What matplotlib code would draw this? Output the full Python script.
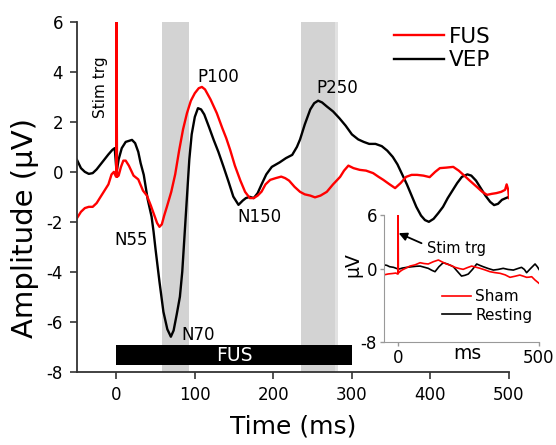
import matplotlib
matplotlib.use("Agg")
import matplotlib.pyplot as plt

plt.rcParams['font.family'] = ['DejaVu Sans']
plt.rcParams['axes.unicode_minus'] = False

# ---------------- data (main panel) ----------------
vep_t = [-50, -45, -40, -35, -30, -25, -20, -15, -10, -5, -2, 0, 1, 3, 7, 12, 20, 24, 28, 31, 35,
         40, 45, 47.5, 50, 55, 60, 65, 69.5, 73, 77, 81, 84, 87, 90, 93, 96, 100, 104, 108,
         112, 118, 124, 130, 136.5, 143, 149, 155.6, 161, 165, 170, 175, 180, 185, 191, 198,
         208, 216, 224, 230, 234, 240, 247, 252, 257, 262, 268, 276, 284, 292, 300, 308, 315,
         322, 330, 338, 345, 352, 358, 364, 370, 376, 382, 388, 393, 398, 404, 410, 416, 422,
         428, 434, 440, 447, 452, 458, 464, 470, 476, 481, 486, 491, 496, 500]
vep_v = [0.48, 0.15, 0.0, -0.08, -0.05, 0.1, 0.3, 0.5, 0.7, 0.88, 0.95, 0.15, 0.1, 0.5, 0.95, 1.2, 1.28, 1.15, 0.8, 0.35, -0.12,
         -1.1, -1.8, -2.4, -3.1, -4.4, -5.6, -6.3, -6.6, -6.35, -5.7, -5.0, -4.0, -2.5, -1.0, 0.5, 1.5, 2.2, 2.55, 2.5,
         2.3, 1.8, 1.28, 0.8, 0.21, -0.4, -0.99, -1.32, -1.15, -1.05, -1.0, -1.05, -0.85, -0.5, -0.1, 0.2,
         0.38, 0.55, 0.68, 1.0, 1.3, 1.9, 2.5, 2.75, 2.85, 2.78, 2.62, 2.42, 2.15, 1.85, 1.5, 1.3, 1.2,
         1.12, 1.12, 1.03, 0.85, 0.6, 0.3, -0.1, -0.5, -0.95, -1.4, -1.75, -1.93, -2.0, -1.88, -1.65, -1.4, -1.05,
         -0.75, -0.45, -0.2, -0.1, -0.15, -0.35, -0.65, -0.95, -1.2, -1.33, -1.28, -1.12, -1.05, -1.0]

fus_t = [-50, -45, -40, -35, -30, -25, -20, -15, -10, -6, -3, -1, 0, 0, 1, 3, 6, 9, 12, 16, 22, 28,
         34, 39, 44, 48, 52, 55, 58, 61, 64.5, 70, 75, 80, 85, 90, 95, 100, 105, 109, 113, 120,
         128, 135, 140, 145, 151, 158, 164, 170, 175, 180, 185, 190, 196, 203, 210, 215, 220,
         227, 234, 240, 247, 253, 260, 268, 276, 285, 290, 295.5, 302, 310, 318, 327, 334, 340,
         348, 355, 362, 369, 376, 383, 391, 399, 406, 412, 420, 429, 436, 442, 450, 459, 466,
         472, 478, 484, 490, 495, 497, 499, 500]
fus_v = [-1.85, -1.6, -1.45, -1.4, -1.4, -1.25, -1.0, -0.75, -0.5, -0.1, 0.0, -0.15, -0.2, 7.0, -0.2, -0.15, 0.2, 0.45, 0.45, 0.25, -0.15, -0.3,
         -0.75, -0.95, -1.35, -1.7, -2.05, -2.2, -2.1, -1.75, -1.39, -0.8, -0.1, 0.85, 1.7, 2.35, 2.85, 3.15, 3.35, 3.4, 3.3, 2.9,
         2.35, 1.75, 1.35, 0.88, 0.25, -0.35, -0.8, -1.05, -1.05, -0.95, -0.79, -0.5, -0.32, -0.25, -0.19, -0.25, -0.35,
         -0.6, -0.8, -0.9, -0.95, -1.02, -0.95, -0.8, -0.5, -0.2, 0.05, 0.25, 0.15, 0.08, 0.05, -0.05, -0.2, -0.32,
         -0.5, -0.65, -0.45, -0.2, -0.12, -0.12, -0.15, -0.21, 0.0, 0.15, 0.17, 0.2, 0.05, -0.12, -0.35, -0.6, -0.8,
         -0.92, -0.88, -0.85, -0.8, -0.72, -0.5, -0.72, -1.05]

shade_windows = [(58, 92), (235, 278)]
shade_light = (278, 282)
fus_window = (0, 300)

peak_labels = ["N55", "N70", "P100", "N150", "P250"]
peak_pos = [(19.5, -2.73), (104.7, -6.52), (129.4, 3.78), (181.7, -1.8), (281, 3.37)]

main_xticks = [0, 100, 200, 300, 400, 500]
main_yticks = [-8, -6, -4, -2, 0, 2, 4, 6]

# ---------------- data (inset) ----------------
sham_t = [-50, -35, -20, -8, -2, 0, 0, 1, 8, 15, 25, 42, 60, 78, 92, 107, 125, 143, 158, 172, 187,
          202, 217, 231, 246, 261, 276, 291, 308, 326, 343, 362, 380, 397, 415, 432, 445, 456,
          465, 474, 486, 495, 500]
sham_v = [-0.6, -0.5, -0.45, -0.4, -0.5, -0.5, 6.5, -0.4, -0.2, -0.05, 0.1, 0.37, 0.5, 0.74, 0.65, 0.6, 0.85, 1.04, 0.8, 0.6, 0.45,
          0.23, 0.1, 0.01, 0.2, 0.37, 0.25, 0.12, -0.05, -0.25, -0.35, -0.43, -0.6, -0.87, -0.75, -0.62, -0.75, -0.87,
          -0.85, -0.8, -1.17, -1.4, -1.53]
rest_t = [-50, -40, -30, -16, -5, 5, 15, 31, 50, 65, 78, 92, 107, 120, 131, 145, 160, 175, 196, 210,
          225, 237, 249, 264, 279, 290, 302, 320, 338, 355, 373, 390, 409, 425, 438, 448, 456,
          470, 486, 494, 500]
rest_v = [0.5, 0.45, 0.3, 0.23, 0.1, 0.05, 0.15, 0.23, 0.3, 0.35, 0.37, 0.25, 0.12, -0.1, -0.25, 0.3, 0.74, 0.6, 0.3, -0.2,
          -0.73, -0.65, -0.51, 0.0, 0.6, 0.45, 0.3, 0.1, -0.07, 0.0, 0.12, 0.0, -0.07, 0.1, 0.23, 0.0, -0.36,
          0.1, 0.6, 0.3, 0.0]
inset_xticks = [0, 500]
inset_yticks = [-8, 0, 6]

RED = '#ff0000'
W, H = 556, 445

fig = plt.figure(figsize=(W / 100, H / 100), dpi=100)

# main axes: pixel box left=77, right=509, top=22, bottom=371.7
ax = fig.add_axes([77 / W, 1 - 371.7 / H, (509 - 77) / W, (371.7 - 22) / H])
ax.set_xlim(-50, 500)
ax.set_ylim(-8, 6)

for a, b in shade_windows:
    ax.axvspan(a, b, color='#d3d3d3', lw=0, zorder=0)
ax.axvspan(shade_light[0], shade_light[1], color='#e2e2e2', lw=0, zorder=0)

ax.barh(-7.35, fus_window[1] - fus_window[0], left=fus_window[0], height=0.8,
        color='black', zorder=3)
ax.text((fus_window[0] + fus_window[1]) / 2, -7.35, 'FUS', color='white',
        ha='center', va='center', fontsize=13.5, zorder=4)

ax.plot(vep_t, vep_v, color='black', lw=1.7, label='VEP', zorder=2)
ax.plot(fus_t, fus_v, color=RED, lw=1.7, label='FUS', zorder=2)

ax.text(-20.4, 3.41, 'Stim trg', rotation=90, ha='center', va='center', fontsize=11)
for lab, (x, y) in zip(peak_labels, peak_pos):
    ax.text(x, y, lab, ha='center', va='center', fontsize=12)

ax.set_xticks(main_xticks)
ax.set_yticks(main_yticks)
ax.tick_params(direction='out', length=5, width=1.2, colors='#333333', labelsize=12,
               labelcolor='black', pad=5)
for s in ['top', 'right']:
    ax.spines[s].set_visible(False)
for s in ['left', 'bottom']:
    ax.spines[s].set_color('#333333')
    ax.spines[s].set_linewidth(1.3)

ax.set_xlabel('Time (ms)', fontsize=18, labelpad=8)
ax.set_ylabel('Amplitude (μV)', fontsize=21)
ax.yaxis.set_label_coords(-0.088, 0.41)

handles, labels = ax.get_legend_handles_labels()
leg = ax.legend(handles[::-1], labels[::-1], loc='upper left',
                bbox_to_anchor=(394 / W, 1 - 27 / H), bbox_transform=fig.transFigure,
                frameon=False, fontsize=15.5, handlelength=2.3, handletextpad=0.25,
                borderpad=0, borderaxespad=0, labelspacing=0.15)

# inset axes: pixel box left=384, right=539, top=215, bottom=342
axi = fig.add_axes([384 / W, 1 - 342 / H, (539 - 384) / W, (342 - 215) / H])
axi.set_xlim(-50, 500)
axi.set_ylim(-8, 6)
axi.patch.set_alpha(0)
axi.plot(rest_t, rest_v, color='black', lw=1.2, label='Resting')
axi.plot(sham_t, sham_v, color=RED, lw=1.2, label='Sham')
axi.set_xticks(inset_xticks)
axi.set_yticks(inset_yticks)
axi.tick_params(direction='out', length=3, width=1, colors='#999999', labelsize=12,
                labelcolor='black', pad=2)
for s in ['top', 'right']:
    axi.spines[s].set_visible(False)
for s in ['left', 'bottom']:
    axi.spines[s].set_color('#999999')
axi.text(0.535, -0.087, 'ms', transform=axi.transAxes, ha='center', va='center', fontsize=13.5)
axi.text(-0.2, 0.606, 'μV', transform=axi.transAxes, rotation=90, ha='center', va='center',
         fontsize=13.5)
axi.annotate('Stim trg', xy=(2, 4.0), xytext=(102, 2.3), ha='left', va='center', fontsize=10.5,
             arrowprops=dict(arrowstyle='-|>', color='black', lw=1.3, shrinkA=2, shrinkB=0,
                             relpos=(0, 0.7), mutation_scale=12))
h2, l2 = axi.get_legend_handles_labels()
axi.legend(h2[::-1], l2[::-1], loc='upper left',
           bbox_to_anchor=(441.7 / W, 1 - 289 / H), bbox_transform=fig.transFigure,
           frameon=False, fontsize=11, handlelength=1.9, handletextpad=0.3,
           borderpad=0, borderaxespad=0, labelspacing=0.25)

fig.savefig('out.png', dpi=100)
